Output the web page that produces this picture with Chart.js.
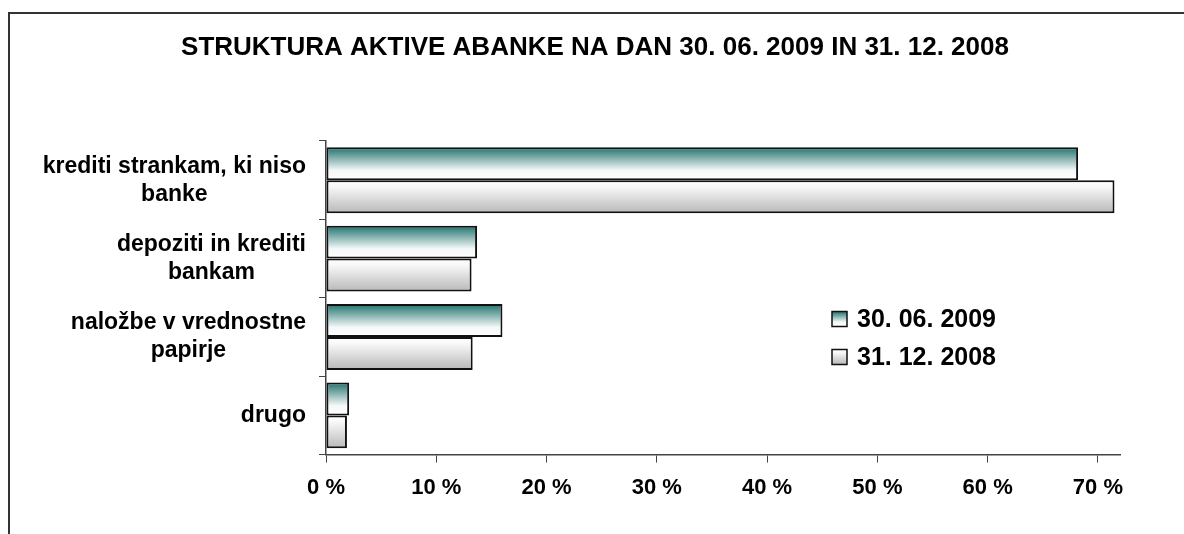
<!DOCTYPE html>
<html>
<head>
<meta charset="utf-8">
<script src="https://cdn.jsdelivr.net/npm/chart.js@4.4.1/dist/chart.umd.min.js"></script>
<style>
  html, body { margin: 0; padding: 0; background: #fff; overflow: hidden; }
  #frame { position: absolute; left: 8px; top: 12px; width: 1300px; height: 700px; border: 2px solid #333; box-sizing: border-box; }
  #wrap { position: absolute; left: 0; top: 0; width: 1184px; height: 534px; }
</style>
</head>
<body>
<div id="frame"></div>
<div id="wrap"><canvas id="chart" width="1184" height="534"></canvas></div>
<script>
const title = "STRUKTURA AKTIVE ABANKE NA DAN 30. 06. 2009 IN 31. 12. 2008";
const categories = [
  ["krediti strankam, ki niso", "banke"],
  ["depoziti in krediti", "bankam"],
  ["naložbe v vrednostne", "papirje"],
  ["drugo"]
];
const seriesNames = ["30. 06. 2009", "31. 12. 2008"];
const values2009 = [68.2, 13.7, 16.0, 2.1];
const values2008 = [71.5, 13.2, 13.3, 1.9];
const xTicks = [0, 10, 20, 30, 40, 50, 60, 70];

const FONT = "'Liberation Sans', Arial, sans-serif";

function tealGrad(ctx, y0, y1) {
  const g = ctx.createLinearGradient(0, y0, 0, y1);
  g.addColorStop(0, "#1f716c");
  g.addColorStop(0.7, "#f4f8f8");
  g.addColorStop(1, "#ffffff");
  return g;
}
function grayGrad(ctx, y0, y1) {
  const g = ctx.createLinearGradient(0, y0, 0, y1);
  g.addColorStop(0, "#ffffff");
  g.addColorStop(0.2, "#f8f8f8");
  g.addColorStop(1, "#b8b8b8");
  return g;
}
const grads = [tealGrad, grayGrad];

// gradient per bar, from its top edge to its bottom edge
const barGradients = {
  id: "barGradients",
  beforeDatasetsDraw(chart) {
    const ctx = chart.ctx;
    chart.data.datasets.forEach((ds, i) => {
      chart.getDatasetMeta(i).data.forEach(el => {
        const y0 = el.y - el.height / 2, y1 = el.y + el.height / 2;
        el.options = Object.assign({}, el.options, { backgroundColor: grads[i](ctx, y0, y1) });
      });
    });
  }
};

// title centred on the whole frame
const topTitle = {
  id: "topTitle",
  afterDraw(chart) {
    const ctx = chart.ctx;
    ctx.save();
    ctx.font = "bold 26px " + FONT;
    ctx.fillStyle = "#000";
    ctx.textAlign = "center";
    ctx.textBaseline = "middle";
    ctx.fillText(title, 595, 48);
    ctx.restore();
  }
};

// multi-line category labels: block right aligned, lines centred
const catLabels = {
  id: "catLabels",
  afterDraw(chart) {
    const ctx = chart.ctx, ys = chart.scales.y;
    const right = ys.right - 20, lh = 28;
    ctx.save();
    ctx.font = "bold 23px " + FONT;
    ctx.fillStyle = "#000";
    ctx.textAlign = "center";
    ctx.textBaseline = "middle";
    categories.forEach((lines, i) => {
      const w = Math.max(...lines.map(l => ctx.measureText(l).width));
      const cx = right - w / 2;
      const cy = ys.getPixelForValue(i);
      lines.forEach((l, k) => {
        ctx.fillText(l, cx, cy + (k - (lines.length - 1) / 2) * lh);
      });
    });
    ctx.restore();
  }
};

const sideLegend = {
  id: "sideLegend",
  afterDraw(chart) {
    const ctx = chart.ctx;
    const x = 832, rows = [319, 357], s = 15;
    ctx.save();
    ctx.font = "bold 25px " + FONT;
    ctx.textBaseline = "middle";
    ctx.textAlign = "left";
    seriesNames.forEach((name, i) => {
      const y = rows[i];
      ctx.fillStyle = grads[i](ctx, y - s / 2, y + s / 2);
      ctx.fillRect(x, y - s / 2, s, s);
      ctx.strokeStyle = "#111";
      ctx.lineWidth = 1.5;
      ctx.strokeRect(x, y - s / 2, s, s);
      ctx.fillStyle = "#000";
      ctx.fillText(name, x + 25, y + 1);
    });
    ctx.restore();
  }
};

const barStyle = {
  categoryPercentage: 0.84,
  barPercentage: 1,
  borderColor: "#111",
  borderWidth: 2,
  borderSkipped: false
};

new Chart(document.getElementById("chart"), {
  type: "bar",
  data: {
    labels: categories,
    datasets: [
      Object.assign({ label: seriesNames[0], data: values2009, backgroundColor: "#267570" }, barStyle),
      Object.assign({ label: seriesNames[1], data: values2008, backgroundColor: "#dddddd" }, barStyle)
    ]
  },
  options: {
    indexAxis: "y",
    responsive: false,
    animation: false,
    devicePixelRatio: 1,
    layout: { padding: { left: 0, right: 64, top: 141, bottom: 21 } },
    scales: {
      x: {
        min: 0,
        max: 72,
        afterBuildTicks(scale) {
          scale.ticks = xTicks.map(v => ({ value: v }));
        },
        grid: { drawOnChartArea: false, tickLength: 8, color: "#444", lineWidth: 1 },
        border: { display: true, color: "#444", width: 1.5 },
        ticks: {
          color: "#000",
          font: { family: FONT, size: 22, weight: "bold" },
          padding: 12,
          maxRotation: 0,
          callback: v => v + " %"
        }
      },
      y: {
        afterFit(scale) { scale.width = 326; },
        grid: { drawOnChartArea: false, tickLength: 7, color: "#444", lineWidth: 1, offset: true },
        border: { display: true, color: "#444", width: 1.5 },
        ticks: { display: false }
      }
    },
    plugins: {
      colors: { enabled: false },
      legend: { display: false },
      tooltip: { enabled: false },
      title: { display: false }
    }
  },
  plugins: [barGradients, topTitle, catLabels, sideLegend]
});
</script>
</body>
</html>
